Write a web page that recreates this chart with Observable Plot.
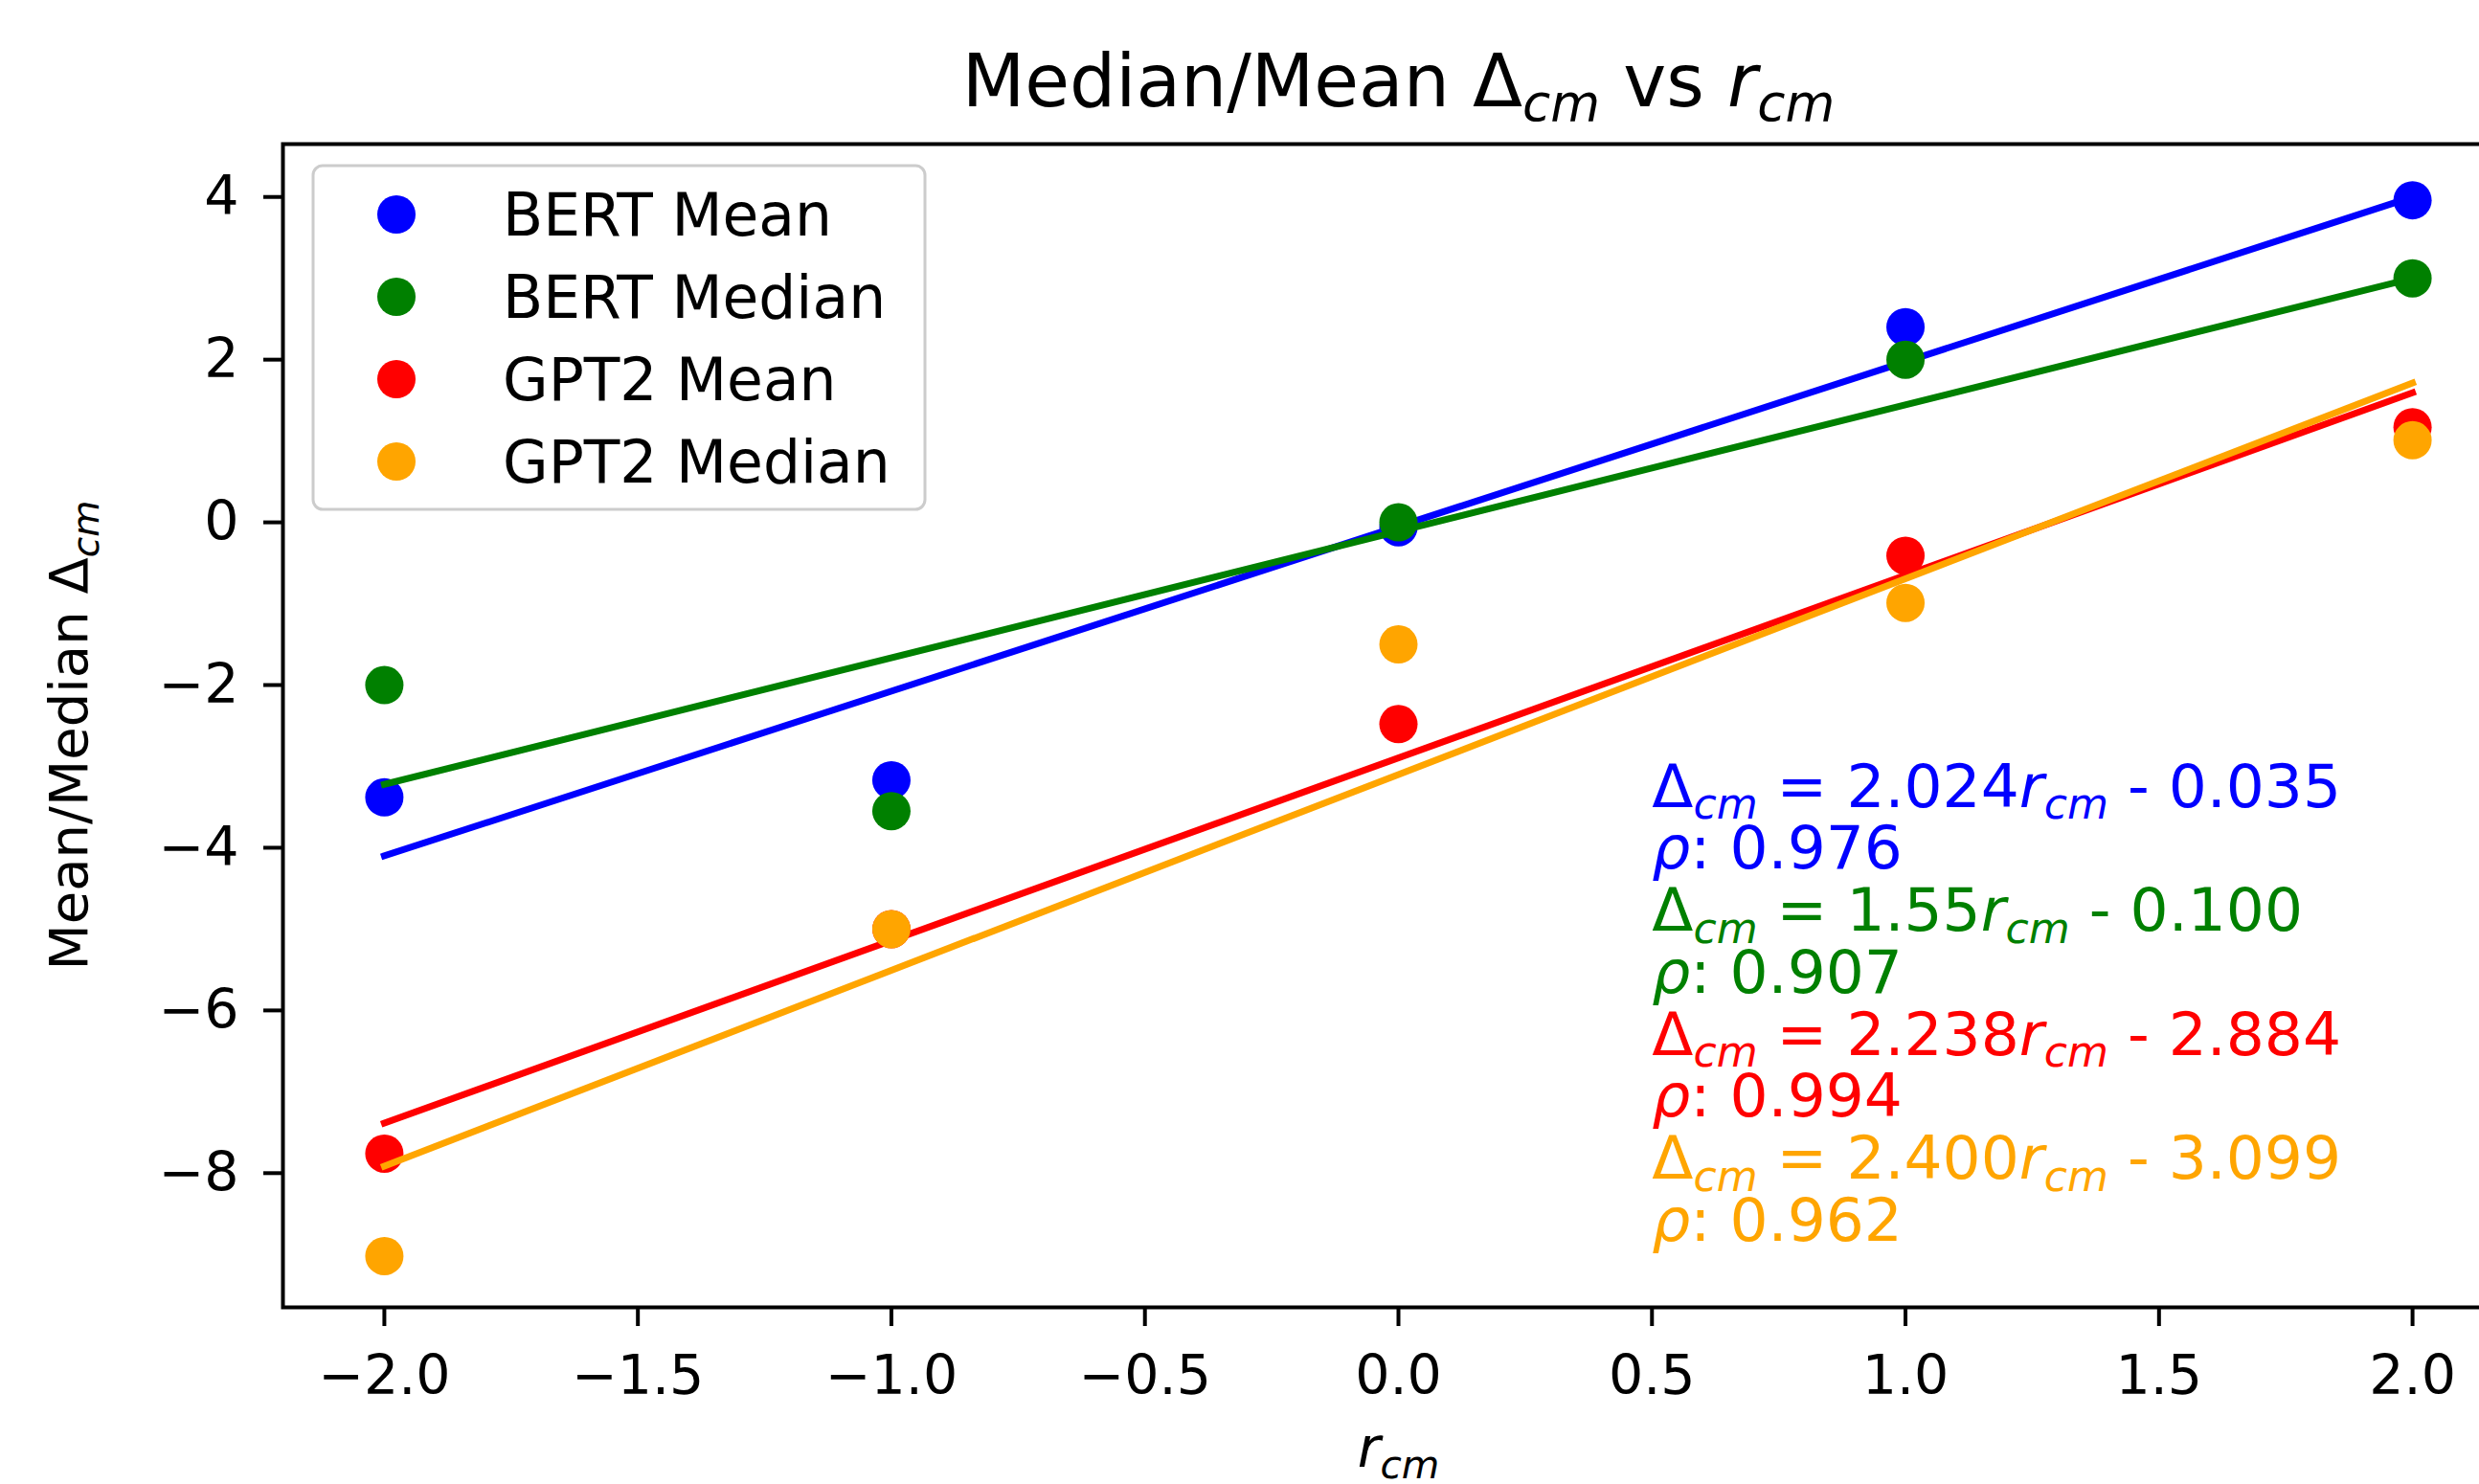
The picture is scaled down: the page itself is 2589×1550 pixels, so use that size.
<!DOCTYPE html>
<html>
<head>
<meta charset="utf-8">
<script src="https://cdn.jsdelivr.net/npm/d3@7"></script>
<script src="https://cdn.jsdelivr.net/npm/@observablehq/plot@0.6"></script>
<style>
  html, body { margin: 0; padding: 0; background: white; overflow: hidden; }
  #chart svg { display: block; max-width: none !important; }
</style>
</head>
<body>
<div id="chart"></div>
<script>
// ---- data ----
const seriesNames = ["BERT Mean", "BERT Median", "GPT2 Mean", "GPT2 Median"];
const seriesColors = ["#0000ff", "#008000", "#ff0000", "#ffa500"];
const rcm = [-2, -1, 0, 1, 2];
const bertMean   = [-3.38, -3.17, -0.06, 2.40, 3.96];
const bertMedian = [-2.00, -3.55, 0.00, 2.00, 3.00];
const gpt2Mean   = [-7.76, -5.00, -2.48, -0.41, 1.17];
const gpt2Median = [-9.02, -5.00, -1.50, -0.99, 1.01];
const seriesValues = [bertMean, bertMedian, gpt2Mean, gpt2Median];

const xTicks = [-2.0, -1.5, -1.0, -0.5, 0.0, 0.5, 1.0, 1.5, 2.0];
const yTicks = [-8, -6, -4, -2, 0, 2, 4];

const fitLabels = [
  "Δ_{cm} = 2.024*r*_{cm} - 0.035", "*ρ*: 0.976",
  "Δ_{cm} = 1.55*r*_{cm} - 0.100",  "*ρ*: 0.907",
  "Δ_{cm} = 2.238*r*_{cm} - 2.884", "*ρ*: 0.994",
  "Δ_{cm} = 2.400*r*_{cm} - 3.099", "*ρ*: 0.962"
];
const fitLabelColors = [
  "#0000ff", "#0000ff", "#008000", "#008000",
  "#ff0000", "#ff0000", "#ffa500", "#ffa500"
];

const titleText = "Median/Mean Δ_{cm} vs *r*_{cm}";
const xLabelText = "*r*_{cm}";
const yLabelText = "Mean/Median Δ_{cm}";

// ---- layout ----
const W = 2640, H = 1550;
const M = {top: 150, right: 15, bottom: 185, left: 295};
const annotX = 0.5, annotY0 = -3.26, annotStep = 0.762;

const rows = seriesValues.map((vals, s) => rcm.map((x, i) => ({x, y: vals[i], s})));

const marks = [Plot.frame({stroke: "black", strokeWidth: 4})];
rows.forEach((data, s) => {
  marks.push(Plot.dot(data, {x: "x", y: "y", fill: seriesColors[s], r: 20}));
  marks.push(Plot.linearRegressionY(data, {x: "x", y: "y", stroke: seriesColors[s], strokeWidth: 7, ci: 0, strokeLinecap: "square"}));
});

marks.push(
  Plot.axisX({ticks: xTicks, tickFormat: d3.format(".1f"), tickSize: 20, tickPadding: 30, fontSize: 57, strokeWidth: 4, label: null}),
  Plot.axisY({ticks: yTicks, tickFormat: d3.format("d"), tickSize: 20, tickPadding: 26, fontSize: 57, strokeWidth: 4, label: null}),
  Plot.text(fitLabels, {
    x: () => annotX,
    y: (d, i) => annotY0 - i * annotStep,
    text: d => d,
    fill: (d, i) => fitLabelColors[i],
    textAnchor: "start",
    lineAnchor: "middle",
    fontSize: 63
  }),
  Plot.text([titleText], {frameAnchor: "top", text: d => d, textAnchor: "middle", lineAnchor: "middle", dy: -64, fontSize: 76, fill: "black"}),
  Plot.text([xLabelText], {frameAnchor: "bottom", text: d => d, textAnchor: "middle", lineAnchor: "middle", dy: 148, fontSize: 58, fill: "black"}),
  Plot.text([yLabelText], {frameAnchor: "left", text: d => d, textAnchor: "middle", lineAnchor: "middle", rotate: -90, dx: -222, dy: 10, fontSize: 56, fill: "black"})
);

const svg = Plot.plot({
  width: W, height: H,
  marginTop: M.top, marginRight: M.right, marginBottom: M.bottom, marginLeft: M.left,
  x: {domain: [-2.2, 2.2]},
  y: {domain: [-9.65, 4.65]},
  style: {fontFamily: "DejaVu Sans", background: "white", color: "black", maxWidth: "none", overflow: "visible"},
  marks
});
document.getElementById("chart").appendChild(svg);

// ---- mini math markup: _{..} italic subscript, *..* italic ----
const NS = "http://www.w3.org/2000/svg";
function mathify(el) {
  const s = el.textContent;
  if (!/_\{|\*/.test(s)) return;
  const fs = parseFloat(getComputedStyle(el).fontSize) || 58;
  const shift = 0.2 * fs;
  el.textContent = "";
  const parts = s.split(/(_\{[^}]*\}|\*[^*]*\*)/g).filter(p => p !== "");
  let shifted = false;
  for (const p of parts) {
    const t = document.createElementNS(NS, "tspan");
    if (p.startsWith("_{")) {
      t.textContent = p.slice(2, -1);
      t.setAttribute("font-style", "italic");
      t.setAttribute("font-size", (0.7 * fs) + "px");
      t.setAttribute("dy", shift);
      shifted = true;
    } else {
      if (shifted) { t.setAttribute("dy", -shift); shifted = false; }
      if (p.startsWith("*")) {
        t.textContent = p.slice(1, -1);
        t.setAttribute("font-style", "italic");
      } else {
        t.textContent = p;
      }
    }
    el.appendChild(t);
  }
}
svg.querySelectorAll("text").forEach(mathify);

// ---- legend ----
const lg = d3.select(svg).append("g").attr("text-anchor", "start");
lg.append("rect")
  .attr("x", 327).attr("y", 173).attr("width", 639).attr("height", 359)
  .attr("rx", 10).attr("fill", "white").attr("fill-opacity", 0.8)
  .attr("stroke", "#cccccc").attr("stroke-width", 3);
seriesNames.forEach((name, i) => {
  const cy = 224 + 86 * i;
  lg.append("circle").attr("cx", 414).attr("cy", cy).attr("r", 20).attr("fill", seriesColors[i]);
  lg.append("text").attr("x", 525).attr("y", cy).attr("dy", "0.36em")
    .attr("text-anchor", "start")
    .attr("font-size", 61.5).attr("font-family", "DejaVu Sans").attr("fill", "black")
    .text(name);
});
</script>
</body>
</html>
